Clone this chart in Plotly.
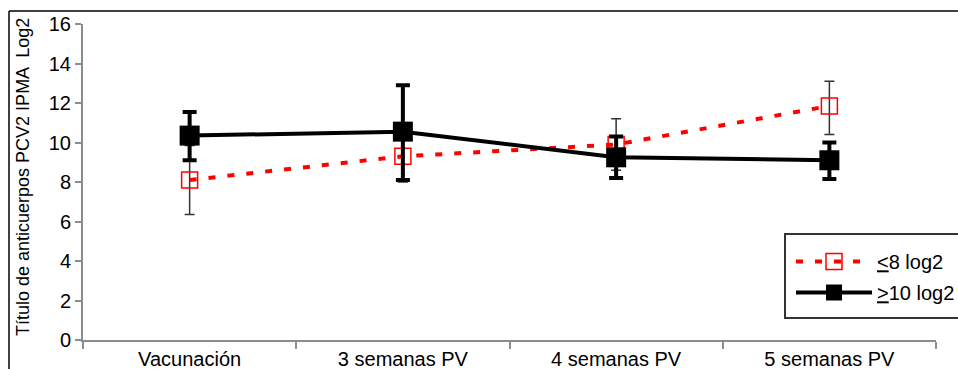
import plotly.graph_objects as go

categories = ["Vacunación", "3 semanas PV", "4 semanas PV", "5 semanas PV"]
le8_values = [8.1, 9.3, 9.9, 11.85]
le8_err_up = [1.75, 1.3, 1.3, 1.25]
le8_err_down = [1.75, 1.3, 1.3, 1.45]
ge10_values = [10.35, 10.55, 9.25, 9.1]
ge10_err_up = [1.2, 2.35, 1.05, 0.9]
ge10_err_down = [1.25, 2.45, 1.05, 0.95]
yticks = [0, 2, 4, 6, 8, 10, 12, 14, 16]

W, H = 958, 369
L, R, T, B = 83, 22, 24, 29
pw, ph = W - L - R, H - T - B


def px(xp):
    return (xp - L) / pw


def py(yp):
    return (H - B - yp) / ph


fig = go.Figure()
fig.add_trace(go.Scatter(
    x=categories, y=le8_values, name="<u>&lt;</u>8 log2", mode="lines+markers",
    legendgroup="a",
    line=dict(color="#FF0000", width=4, dash="7px,12px"),
    marker=dict(symbol="square-open", size=16, color="#FF0000", line=dict(width=1.5)),
    error_y=dict(type="data", array=le8_err_up, arrayminus=le8_err_down,
                 color="#333333", thickness=1.5, width=5),
))
fig.add_trace(go.Scatter(
    x=categories, y=ge10_values, name="<u>&gt;</u>10 log2", mode="lines+markers",
    legendgroup="b",
    line=dict(color="#000000", width=4),
    marker=dict(symbol="square", size=20, color="#000000"),
    error_y=dict(type="data", array=ge10_err_up, arrayminus=ge10_err_down,
                 color="#000000", thickness=4, width=7),
))

fig.update_layout(
    width=W, height=H,
    margin=dict(l=L, r=R, t=T, b=B, autoexpand=False),
    paper_bgcolor="white", plot_bgcolor="white",
    font=dict(family="Liberation Sans, Arial, sans-serif", size=20, color="#000000"),
    showlegend=True,
    legend=dict(x=px(791), y=py(242), xanchor="left", yanchor="top",
                bgcolor="rgba(0,0,0,0)", borderwidth=0,
                font=dict(size=20), tracegroupgap=2, itemwidth=76),
    xaxis=dict(type="category", range=[-0.5, 3.5], showgrid=False, zeroline=False,
               showline=True, linecolor="#8c8c8c", linewidth=2, automargin=False,
               ticks="outside", tickson="boundaries", ticklen=7, tickcolor="#8c8c8c",
               tickwidth=1.5, tickfont=dict(size=20)),
    yaxis=dict(range=[0, 16], tickvals=yticks, showgrid=False, zeroline=False,
               showline=True, linecolor="#8c8c8c", linewidth=2, automargin=False,
               ticks="outside", ticklen=6, tickcolor="#8c8c8c", tickwidth=1.5,
               tickfont=dict(size=20)),
    annotations=[dict(text="Título de anticuerpos PCV2 IPMA  Log2", textangle=-90,
                      xref="paper", yref="paper", x=px(23), y=py(177),
                      xanchor="center", yanchor="middle", showarrow=False,
                      font=dict(size=18))],
    shapes=[
        dict(type="line", xref="paper", yref="paper",
             x0=px(9), x1=px(9), y0=py(11), y1=py(375),
             line=dict(color="#000000", width=1.5)),
        dict(type="line", xref="paper", yref="paper",
             x0=px(9), x1=px(965), y0=py(11), y1=py(11),
             line=dict(color="#000000", width=1.5)),
        dict(type="rect", xref="paper", yref="paper",
             x0=px(785), x1=px(975), y0=py(234), y1=py(318),
             fillcolor="white", line=dict(color="#333333", width=2)),
    ],
)

fig.write_html("out.html", config={"displayModeBar": False},
               post_script="document.body.style.margin='0';document.body.style.overflow='hidden';")
